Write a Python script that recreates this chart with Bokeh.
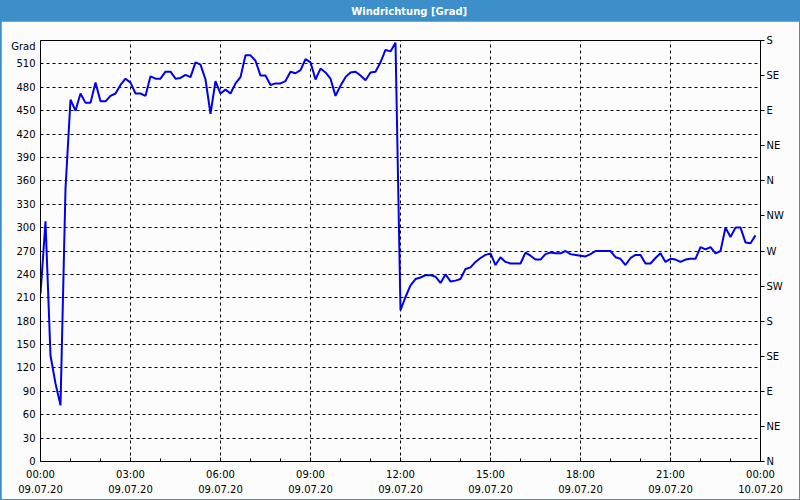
import pandas as pd
from bokeh.plotting import figure
from bokeh.models import (LinearAxis, FixedTicker, DatetimeTickFormatter, Range1d,
                          ColumnDataSource)
from bokeh.layouts import column
from bokeh.embed import file_html
from bokeh.resources import INLINE
from bokeh.core.properties import value

# ---------------- data ----------------
title_text = "Windrichtung [Grad]"
unit_label = "Grad"
start = "2020-07-09 00:00"
end = "2020-07-10 00:00"

# wind direction every 10 minutes, 00:00 .. 23:50 (degrees, unwrapped)
direction = [
    215, 308, 136, 100, 72, 350, 464, 450, 472, 460, 460, 486,
    462, 462, 469, 472, 483, 491, 486, 472, 472, 469, 494, 491,
    491, 500, 500, 491, 492, 496, 493, 512, 509, 490, 446, 488,
    472, 477, 472, 485, 493, 521, 521, 514, 495, 495, 483, 485,
    485, 488, 500, 498, 502, 516, 512, 490, 504, 499, 491, 469,
    482, 493, 499, 500, 495, 489, 499, 500, 512, 528, 526, 537,
    194, 211, 226, 234, 236, 239, 239, 237, 229, 240, 231, 232,
    234, 247, 249, 256, 261, 265, 267, 252, 262, 256, 254, 254,
    254, 268, 264, 259, 259, 266, 268, 267, 267, 270, 266, 265,
    264, 263, 266, 270, 270, 270, 270, 262, 260, 252, 261, 265,
    265, 254, 254, 261, 267, 256, 260, 259, 256, 259, 260, 260,
    275, 272, 275, 267, 270, 300, 288, 300, 300, 281, 280, 290,
]
times = pd.date_range(start, periods=len(direction), freq="10min")

left_ticks = list(range(0, 540, 30))
unit_tick = 532
right_ticks = list(range(0, 541, 45))
compass = ["N", "NE", "E", "SE", "S", "SW", "W", "NW", "N", "NE", "E", "SE", "S"]
x_major = pd.date_range(start, end, freq="3h")
x_minor = pd.date_range(start, end, freq="1h")

# ---------------- styling ----------------
BLUE_BAR = "#3c8fc8"
BG = "#fbfcfb"
LINE = "#0000ee"
FONT = "DejaVu Sans"
FS = "10px"

epoch = pd.Timestamp("1970-01-01")
def to_ms(ts):
    return float((ts - epoch) // pd.Timedelta("1ms"))

x_major_ms = [to_ms(t) for t in x_major]
x_minor_ms = [to_ms(t) for t in x_minor]
start_ms = to_ms(pd.Timestamp(start))
end_ms = to_ms(pd.Timestamp(end))

# ---------------- title bar ----------------
top = figure(width=800, height=21, x_range=Range1d(0, 1), y_range=Range1d(0, 1),
             toolbar_location=None, output_backend="svg", min_border=0)
top.axis.visible = False
top.grid.visible = False
top.outline_line_color = None
top.background_fill_color = BLUE_BAR
top.border_fill_color = BLUE_BAR
top.text(x=[0.512], y=[0.5], text=[title_text], text_color="white",
         text_font=value(FONT), text_font_style="bold", text_font_size="10px",
         text_align="center", text_baseline="middle")

# ---------------- chart ----------------
p = figure(width=798, height=478, x_axis_type="datetime",
           x_range=Range1d(start_ms, end_ms), y_range=Range1d(0, 540),
           toolbar_location=None, output_backend="svg",
           min_border_left=39, min_border_right=39,
           min_border_top=19, min_border_bottom=38,
           margin=(0, 1, 1, 1))
p.background_fill_color = BG
p.border_fill_color = BG
p.outline_line_color = "black"

src = ColumnDataSource(dict(t=times, d=direction))
p.line(x="t", y="d", source=src, line_color=LINE, line_width=2)

# x axis
xa = p.xaxis[0]
xa.ticker = FixedTicker(ticks=x_major_ms, minor_ticks=x_minor_ms)
fmt = "%H:%M\n%d.%m.%y"
xa.formatter = DatetimeTickFormatter(microseconds=fmt, milliseconds=fmt, seconds=fmt,
                                     minsec=fmt, minutes=fmt, hourmin=fmt, hours=fmt,
                                     days=fmt, months=fmt, years=fmt, context=None)
xa.major_tick_in = 4
xa.major_tick_out = 0
xa.minor_tick_in = 3
xa.minor_tick_out = 0
xa.major_label_standoff = 7
xa.major_label_text_font = FONT
xa.major_label_text_font_size = FS
xa.major_label_text_color = "black"
xa.major_label_text_line_height = 1.45
xa.axis_line_color = "black"
xa.major_tick_line_color = "black"
xa.minor_tick_line_color = "black"

# left axis (with the unit written as the top label)
ya = p.yaxis[0]
ya.ticker = FixedTicker(ticks=left_ticks + [unit_tick], minor_ticks=[])
ya.major_label_overrides = {unit_tick: unit_label}
ya.major_tick_in = 0
ya.major_tick_out = 0
ya.minor_tick_in = 0
ya.minor_tick_out = 0
ya.major_label_standoff = 5
ya.major_label_text_font = FONT
ya.major_label_text_font_size = FS
ya.major_label_text_color = "black"
ya.axis_line_color = "black"

# right compass axis
ra = LinearAxis(ticker=FixedTicker(ticks=right_ticks, minor_ticks=[]),
                major_label_overrides={t: c for t, c in zip(right_ticks, compass)})
ra.major_tick_in = 0
ra.major_tick_out = 4
ra.minor_tick_in = 0
ra.minor_tick_out = 0
ra.major_label_standoff = 2
ra.major_label_text_font = FONT
ra.major_label_text_font_size = FS
ra.major_label_text_color = "black"
ra.axis_line_color = "black"
ra.major_tick_line_color = "black"
p.add_layout(ra, "right")

# grids
p.xgrid.grid_line_color = "black"
p.xgrid.grid_line_dash = "3 3"
p.ygrid.ticker = FixedTicker(ticks=left_ticks, minor_ticks=[])
p.ygrid.grid_line_color = "black"
p.ygrid.grid_line_dash = "3 3"

layout = column(top, p, spacing=0, styles={"background-color": BLUE_BAR})

open("out.html", "w").write(file_html(layout, INLINE))
